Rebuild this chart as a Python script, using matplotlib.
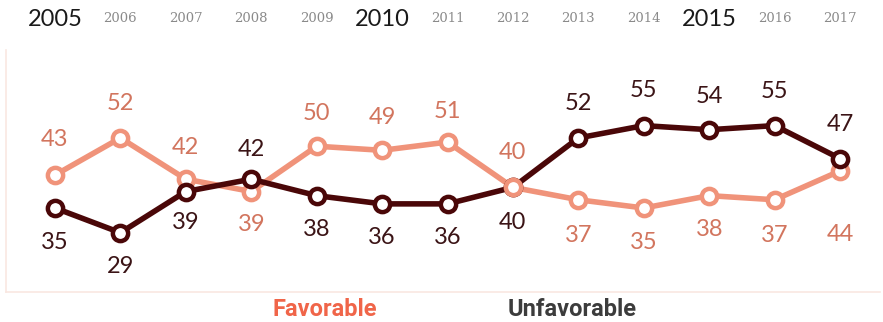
import numpy as np
import matplotlib.pyplot as plt
from matplotlib.transforms import blended_transform_factory

years = np.arange(2005, 2018)
favorable = np.array([43, 52, 42, 39, 50, 49, 51, 40, 37, 35, 38, 37, 44])
unfavorable = np.array([35, 29, 39, 42, 38, 36, 36, 40, 52, 55, 54, 55, 47])
major_years = [2005, 2010, 2015]

# vertical label offsets in pixels (negative = above the point)
fav_dy = [-36, -34, -32, 33, -33, -33, -31, -35, 36, 35, 34, 36, 64]
unf_dy = [35, 34, 31, -30, 34, 34, 34, 35, -34, -35, -33, -34, -34]

FAV = '#f0937a'
FAV_TXT = '#d2755e'
UNF = '#4a0708'
UNF_TXT = '#3b1416'

fig = plt.figure(figsize=(8.83, 3.22), dpi=100)
ax = fig.add_axes([6 / 883, 30 / 322, 874 / 883, 242 / 322])
ax.set_xlim(2004.251, 2017.611)
ax.set_ylim(14.61, 73.35)
ax.set_xticks([])
ax.set_yticks([])
for s in ['top', 'right']:
    ax.spines[s].set_visible(False)
for s in ['left', 'bottom']:
    ax.spines[s].set_color('#f9e7e1')
    ax.spines[s].set_linewidth(1.2)

mk = dict(marker='o', markersize=11, markerfacecolor='white', markeredgewidth=3.2)
ax.plot(years, favorable, color=FAV, lw=4, markeredgecolor=FAV, zorder=2, **mk)
ax.plot(years, unfavorable, color=UNF, lw=4, markeredgecolor=UNF, zorder=3, **mk)
same = favorable == unfavorable
ax.plot(years[same], favorable[same], ls='none', markeredgecolor=FAV, zorder=4, **mk)

font = 'Lato'
for x, v, dy in zip(years, favorable, fav_dy):
    ax.annotate(str(v), (x, v), xytext=(0, -dy * 0.72), textcoords='offset points',
                ha='center', va='center', fontsize=17, color=FAV_TXT, family=font)
for x, v, dy in zip(years, unfavorable, unf_dy):
    ax.annotate(str(v), (x, v), xytext=(0, -dy * 0.72), textcoords='offset points',
                ha='center', va='center', fontsize=17, color=UNF_TXT, family=font)

# year header
tr = blended_transform_factory(ax.transData, fig.transFigure)
for y in years:
    if y in major_years:
        ax.text(y, 1 - 20 / 322, str(y), transform=tr, ha='center', va='center',
                fontsize=17, color='#1a1a1a', family=font, clip_on=False)
    else:
        ax.text(y, 1 - 18 / 322, str(y), transform=tr, ha='center', va='center',
                fontsize=9.5, color='#8a8a8a', family='DejaVu Serif', clip_on=False)

fig.text(325 / 883, 1 - 309 / 322, 'Favorable', ha='center', va='center',
         fontsize=17, fontweight='bold', color='#f06549', family='Roboto')
fig.text(572 / 883, 1 - 309 / 322, 'Unfavorable', ha='center', va='center',
         fontsize=17, fontweight='bold', color='#3c3c3c', family='Roboto')

fig.savefig('out.png', dpi=100)
